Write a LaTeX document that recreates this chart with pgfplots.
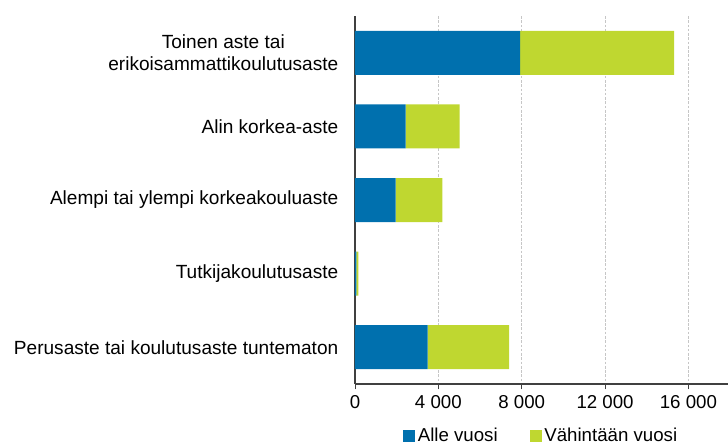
\documentclass[border=0pt]{standalone}
\usepackage{pgfplots}
\pgfplotsset{compat=1.18}
\usepackage{fontspec}
\setmainfont{Liberation Sans}
\definecolor{cblue}{HTML}{0070AE}
\definecolor{cgreen}{HTML}{BFD730}
\definecolor{axgray}{HTML}{404040}
\begin{document}
\begin{tikzpicture}[x=0.75pt,y=0.75pt]
\begin{axis}[
  at={(0,0)}, anchor=south west,
  scale only axis,
  width=279.75pt, height=276pt,
  xbar stacked,
  bar width=33pt,
  xmin=0, xmax=17900,
  ymin=-0.5, ymax=4.5,
  y dir=reverse,
  scaled x ticks=false,
  ytick={0,1,2,3,4},
  yticklabels={{Toinen aste tai\\erikoisammattikoulutusaste},{Alin korkea-aste},{Alempi tai ylempi korkeakouluaste},{Tutkijakoulutusaste},{Perusaste tai koulutusaste tuntematon}},
  yticklabel style={align=center, font=\fontsize{14.3}{16.5}\selectfont, xshift=-5pt},
  xtick={0,4000,8000,12000,16000},
  xticklabels={0,4 000,8 000,12 000,16 000},
  xticklabel style={font=\fontsize{14}{16}\selectfont, yshift=-1pt},
  tick align=outside,
  ytick style={draw=none},
  xtick style={axgray, line width=0.6pt},
  major tick length=4pt,
  xmajorgrids,
  grid style={gray!45, dash pattern=on 2pt off 1.2pt, line width=0.5pt},
  axis x line*=bottom,
  axis y line*=left,
  axis line style={axgray, line width=1pt, -},
  legend style={at={(0.5,-0.112)}, anchor=north, draw=none, legend columns=2,
    font=\fontsize{14}{16}\selectfont, inner sep=0pt,
    /tikz/every even column/.append style={column sep=22pt}},
  legend image code/.code={\fill[#1] (0pt,-4.5pt) rectangle (9pt,4.5pt);},
]
\addplot[fill=cblue, draw=none] coordinates {(7930,0) (2430,1) (1950,2) (70,3) (3490,4)};
\addplot[fill=cgreen, draw=none] coordinates {(7390,0) (2590,1) (2240,2) (90,3) (3910,4)};
\legend{Alle vuosi, Vähintään vuosi}
\end{axis}
\pgfresetboundingbox
\path[use as bounding box] (-355,-64) rectangle (373,384);
\end{tikzpicture}
\end{document}
